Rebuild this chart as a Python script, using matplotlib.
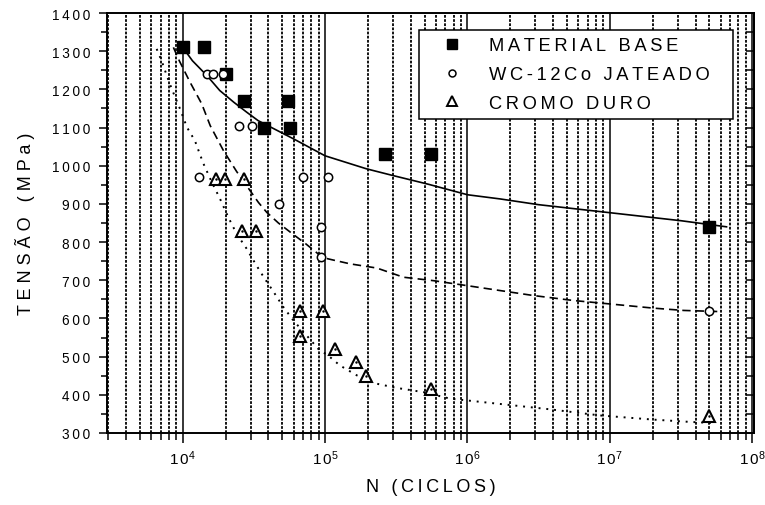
import numpy as np
import matplotlib
matplotlib.use('Agg')
import matplotlib.pyplot as plt
from matplotlib.lines import Line2D
from matplotlib.ticker import LogLocator, MultipleLocator, FixedLocator, FuncFormatter, NullFormatter

plt.rcParams['font.family'] = ['Liberation Sans', 'DejaVu Sans']
plt.rcParams['mathtext.default'] = 'regular'

# points (N in cycles, stress in MPa)
base_n = [10000, 14000, 20000, 27000, 55000, 37000, 57000, 265000, 550000, 5.0e7]
base_s = [1310, 1310, 1240, 1170, 1170, 1100, 1100, 1030, 1030, 840]

wc_n = [14700, 16400, 19300, 25000, 30500, 13000, 70000, 104000, 47500, 93000, 93000, 5.0e7]
wc_s = [1240, 1240, 1240, 1105, 1105, 970, 970, 970, 900, 840, 760, 620]

cr_n = [17100, 19800, 27000, 26000, 32700, 66700, 97000, 66700, 118000, 166000, 193000, 556000, 5.0e7]
cr_s = [965, 965, 965, 830, 830, 620, 620, 555, 520, 485, 450, 415, 345]

# fitted curves
base_fit_n = [10000, 11700, 14800, 18200, 22900, 28200, 33900, 60300, 100000, 195000,
              302000, 525000, 1.0e6, 1.7e6, 3.16e6, 1.0e7, 3.16e7, 6.6e7]
base_fit_s = [1310, 1275, 1236, 1197, 1166, 1140, 1118, 1070, 1026, 992,
              974, 952, 924, 913, 898, 877, 856, 840]

wc_fit_n = [8600, 9460, 11250, 13600, 15600, 19300, 23900, 29700, 34000, 38900, 47000,
            59800, 72300, 87500, 94800, 114000, 150000, 231000, 355000, 577000, 991000,
            1.70e6, 2.91e6, 5.56e6, 1.0e7, 2.03e7, 3.30e7, 5.9e7]
wc_fit_s = [1310, 1275, 1219, 1162, 1105, 1040, 985, 935, 904, 878, 850,
            820, 797, 772, 760, 753, 743, 732, 708, 699, 686,
            673, 660, 647, 638, 627, 621, 618]

cr_fit_n = [6560, 7110, 7730, 8380, 9570, 10700, 12200, 13200, 14000, 16000, 18300,
            20900, 23900, 28200, 32200, 36800, 43400, 50900, 59800, 76400, 89700,
            105000, 127000, 167000, 231000, 319000, 491000, 755000, 1.70e6, 3.80e6,
            8.51e6, 2.03e7, 3.67e7, 5.5e7]
cr_fit_s = [1306, 1275, 1236, 1201, 1149, 1101, 1065, 1030, 1005, 957, 913,
            865, 822, 782, 745, 710, 670, 630, 595, 550, 520,
            503, 477, 451, 429, 418, 407, 390, 376, 362,
            346, 335, 329, 326]

legend_labels = ['MATERIAL BASE', 'WC-12Co JATEADO', 'CROMO DURO']
ylabel = 'TENSÃO (MPa)'
xlabel = 'N (CICLOS)'


def spaced(s, sep):
    return sep.join(s)


fig = plt.figure(figsize=(7.65, 5.06), dpi=100)
ax = fig.add_axes([0.1399, 0.1423, 0.8458, 0.8300])

ax.set_xscale('log')
ax.set_xlim(2940, 1.03e8)
ax.set_ylim(300, 1400)

# vertical grid: dotted at minor, solid at decades
ax.xaxis.set_major_locator(FixedLocator([1e4, 1e5, 1e6, 1e7, 1e8]))
ax.xaxis.set_minor_locator(LogLocator(base=10, subs=np.arange(2, 10), numticks=20))
ax.xaxis.set_minor_formatter(NullFormatter())
ax.xaxis.set_major_formatter(FuncFormatter(
    lambda v, p: r'$\mathregular{1\,0^{%d}}$' % int(round(np.log10(v)))))
ax.grid(True, which='major', axis='x', color='black', lw=1.1, ls='-')
ax.grid(True, which='minor', axis='x', color='black', lw=1.3, ls=(0, (1.5, 0.8)))
ax.set_axisbelow(True)

ax.yaxis.set_major_locator(MultipleLocator(100))
ax.yaxis.set_minor_locator(MultipleLocator(50))
ax.yaxis.set_major_formatter(FuncFormatter(lambda v, p: spaced(str(int(v)), '\u2009')))

ax.tick_params(axis='x', which='major', direction='out', length=7, width=1.1,
               labelsize=11, pad=4, top=False)
ax.tick_params(axis='x', which='minor', direction='out', length=5, width=1.1, top=False)
ax.tick_params(axis='y', which='major', direction='out', length=6, width=1.1,
               labelsize=9.8, pad=6, right=False)
ax.tick_params(axis='y', which='minor', direction='out', length=4, width=1.1, right=False)

sec = ax.secondary_yaxis('right')
sec.yaxis.set_major_locator(MultipleLocator(100))
sec.yaxis.set_minor_locator(MultipleLocator(50))
sec.tick_params(which='both', direction='in', length=6, width=1.1, labelright=False)
sec.spines['right'].set_linewidth(1.4)

for sp in ax.spines.values():
    sp.set_linewidth(1.4)

# fitted curves
ax.plot(base_fit_n, base_fit_s, color='black', lw=1.2, ls='-', zorder=3)
ax.plot(wc_fit_n, wc_fit_s, color='black', lw=1.2, ls=(0, (5, 3)), zorder=3)
ax.plot(cr_fit_n, cr_fit_s, color='black', lw=1.4, ls=(0, (1, 3)), zorder=3)

# data points
ax.plot(base_n, base_s, ls='none', marker='s', ms=8.4, mfc='black', mec='black', zorder=4)
ax.plot(wc_n, wc_s, ls='none', marker='o', ms=6, mfc='white', mec='black', mew=1.1, zorder=5)
ax.plot(cr_n, cr_s, ls='none', marker='^', ms=8, mfc='white', mec='black', mew=1.5, zorder=5)
ax.plot(cr_n, cr_s, ls='none', marker='.', ms=1.5, color='black', zorder=6)

handles = [
    Line2D([], [], ls='none', marker='s', ms=7.7, mfc='black', mec='black'),
    Line2D([], [], ls='none', marker='o', ms=5, mfc='white', mec='black', mew=1.1),
    Line2D([], [], ls='none', marker='^', ms=7, mfc='white', mec='black', mew=1.4),
]
leg = ax.legend(handles, [spaced(t, '\u2009') for t in legend_labels],
                loc='upper left', bbox_to_anchor=(0.4822, 0.5, 0.4853, 0.4595),
                mode='expand', fontsize=13.2, frameon=True, fancybox=False,
                framealpha=1, edgecolor='black', borderpad=0.4, labelspacing=0.64,
                handlelength=2.8, handletextpad=0.62, borderaxespad=0)
leg.get_frame().set_linewidth(1.1)
leg.set_zorder(10)

ax.set_ylabel(spaced(ylabel, ' '), fontsize=13, labelpad=12)
ax.set_xlabel(spaced(xlabel, '\u2009'), fontsize=13, labelpad=8)

fig.savefig('out.png', dpi=100)
